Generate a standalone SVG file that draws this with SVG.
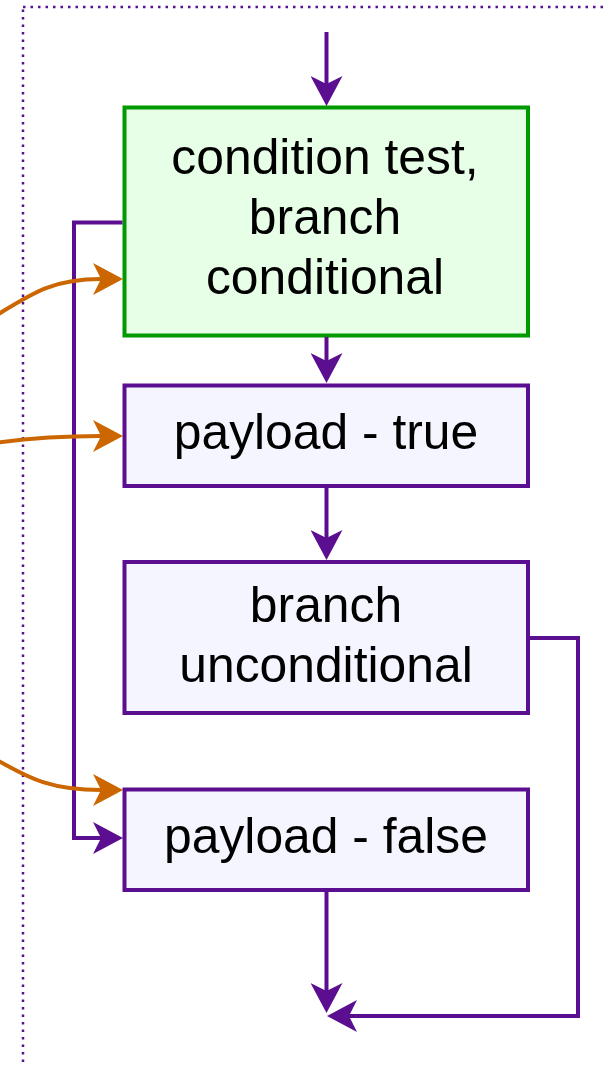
<svg xmlns="http://www.w3.org/2000/svg" width="608" height="1065" viewBox="0 0 608 1065">
<style>
.box{fill:#F5F5FF;stroke:#5B0E8F;stroke-width:4}
.green{fill:#E6FFE6;stroke:#009900;stroke-width:4}
.lbl{font-family:"Liberation Sans",Arial,sans-serif;font-size:49.8px;fill:#000;text-anchor:middle}
.p{fill:none;stroke:#5B0E8F;stroke-width:4}
.o{fill:none;stroke:#CC6600;stroke-width:4}
</style>
<defs>
<marker id="ap" viewBox="0 0 30 32" refX="8" refY="16" markerWidth="30" markerHeight="32" markerUnits="userSpaceOnUse" orient="auto">
<path d="M30,16 L0,0 L8,16 L0,32 Z" fill="#5B0E8F"/>
</marker>
<marker id="ao" viewBox="0 0 30 32" refX="8" refY="16" markerWidth="30" markerHeight="32" markerUnits="userSpaceOnUse" orient="auto">
<path d="M30,16 L0,0 L8,16 L0,32 Z" fill="#CC6600"/>
</marker>
</defs>
<rect x="23" y="7" width="700" height="1200" fill="none" stroke="#5B0E8F" stroke-width="2.5" stroke-dasharray="2.5 5"/>
<g id="n1">
<rect class="green" x="124.5" y="107.5" width="403.5" height="228"/>
<text class="lbl" x="325" y="174">condition test,</text>
<text class="lbl" x="325" y="234">branch</text>
<text class="lbl" x="325" y="294">conditional</text>
</g>
<g id="n2">
<rect class="box" x="124.5" y="385.5" width="403.5" height="100.5"/>
<text class="lbl" x="326" y="449">payload - true</text>
</g>
<g id="n3">
<rect class="box" x="124.5" y="562" width="403.5" height="151"/>
<text class="lbl" x="326" y="622">branch</text>
<text class="lbl" x="326" y="682">unconditional</text>
</g>
<g id="n4">
<rect class="box" x="124.5" y="789.5" width="403.5" height="100.5"/>
<text class="lbl" x="326" y="853">payload - false</text>
</g>
<g id="connectors">
<path class="p" d="M326.5,32 V84" marker-end="url(#ap)"/>
<path class="p" d="M326.5,337 V361" marker-end="url(#ap)"/>
<path class="p" d="M326.5,488 V538" marker-end="url(#ap)"/>
<path class="p" d="M326.5,892 V991" marker-end="url(#ap)"/>
<path class="p" d="M122.5,222.5 H74 V838 H101" marker-end="url(#ap)"/>
<path class="p" d="M530,638 H578 V1016 H349" marker-end="url(#ap)"/>
<path class="o" d="M-8,318 C30,295 50,279 101,279" marker-end="url(#ao)"/>
<path class="o" d="M-5,443 C30,438 60,436 101,436" marker-end="url(#ao)"/>
<path class="o" d="M-5,759 C25,775 45,790 101,790" marker-end="url(#ao)"/>
</g>
</svg>
